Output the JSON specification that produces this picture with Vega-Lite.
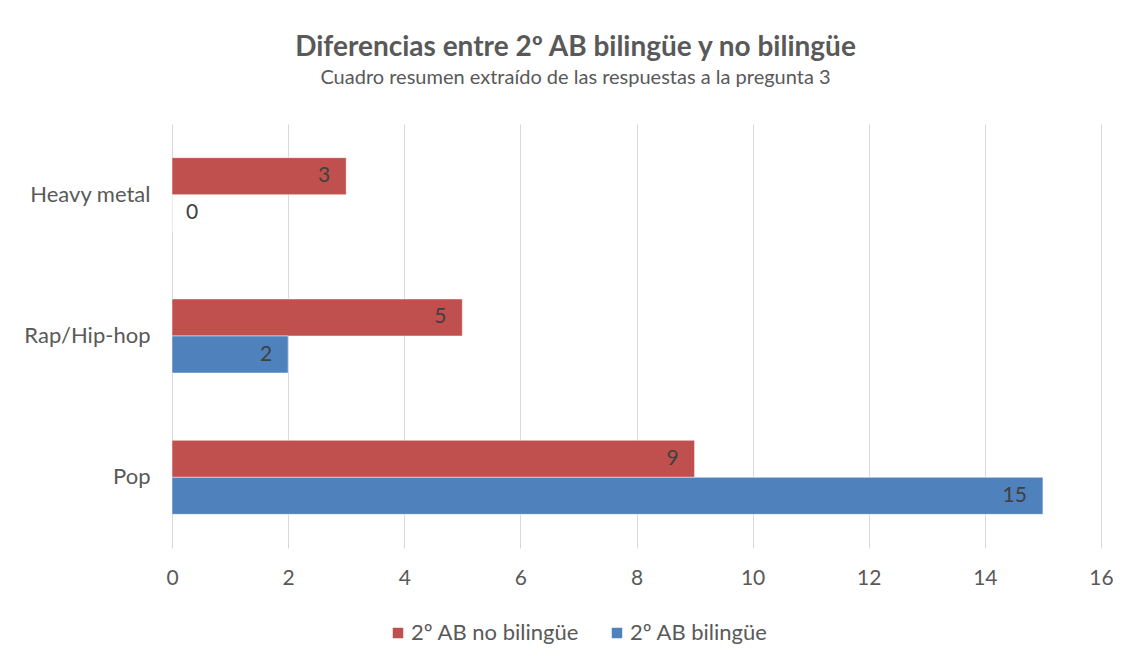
{
  "$schema": "https://vega.github.io/schema/vega-lite/v6.json",
  "width": 929,
  "height": 424,
  "autosize": {"type": "none"},
  "padding": {"left": 172, "top": 124, "right": 33, "bottom": 118},
  "background": "white",
  "config": {
    "font": "Lato",
    "view": {"stroke": null}
  },
  "title": {
    "text": "Diferencias entre 2º AB bilingüe y no bilingüe",
    "subtitle": "Cuadro resumen extraído de las respuestas a la pregunta 3",
    "anchor": "middle",
    "dx": -61,
    "offset": 36,
    "font": "Lato",
    "fontSize": 28,
    "fontWeight": "bold",
    "color": "#595959",
    "subtitleFont": "Lato",
    "subtitleFontSize": 20,
    "subtitleColor": "#595959",
    "subtitlePadding": 6
  },
  "data": {
    "values": [
      {"genero": "Heavy metal", "grupo": "2º AB no bilingüe", "valor": 3},
      {"genero": "Heavy metal", "grupo": "2º AB bilingüe", "valor": 0},
      {"genero": "Rap/Hip-hop", "grupo": "2º AB no bilingüe", "valor": 5},
      {"genero": "Rap/Hip-hop", "grupo": "2º AB bilingüe", "valor": 2},
      {"genero": "Pop", "grupo": "2º AB no bilingüe", "valor": 9},
      {"genero": "Pop", "grupo": "2º AB bilingüe", "valor": 15}
    ]
  },
  "encoding": {
    "y": {
      "field": "genero",
      "type": "nominal",
      "sort": ["Heavy metal", "Rap/Hip-hop", "Pop"],
      "scale": {"paddingInner": 0.476, "paddingOuter": 0.238},
      "axis": {
        "title": null,
        "ticks": false,
        "domain": false,
        "labelFontSize": 22,
        "labelColor": "#595959",
        "labelPadding": 22
      }
    },
    "yOffset": {
      "field": "grupo",
      "type": "nominal",
      "sort": ["2º AB no bilingüe", "2º AB bilingüe"]
    },
    "x": {
      "field": "valor",
      "type": "quantitative",
      "scale": {"domain": [0, 16], "nice": false},
      "axis": {
        "title": null,
        "values": [0, 2, 4, 6, 8, 10, 12, 14, 16],
        "ticks": false,
        "domain": false,
        "labelFlush": false,
        "gridColor": "#d9d9d9",
        "labelFontSize": 21,
        "labelColor": "#595959",
        "labelPadding": 19
      }
    }
  },
  "layer": [
    {
      "mark": {"type": "bar", "stroke": "white", "strokeWidth": 0.5},
      "encoding": {
        "color": {
          "field": "grupo",
          "type": "nominal",
          "sort": ["2º AB no bilingüe", "2º AB bilingüe"],
          "scale": {
            "domain": ["2º AB no bilingüe", "2º AB bilingüe"],
            "range": ["#C0504D", "#4F81BD"]
          },
          "legend": {
            "title": null,
            "orient": "none",
            "direction": "horizontal",
            "legendX": 215,
            "legendY": 498,
            "symbolType": "square",
            "symbolSize": 110,
            "symbolStrokeWidth": 0,
            "labelFontSize": 22,
            "labelLimit": 400,
            "labelColor": "#595959",
            "columnPadding": 26,
            "labelOffset": 2
          }
        }
      }
    },
    {
      "transform": [{"filter": "datum.valor > 0"}],
      "mark": {"type": "text", "align": "right", "baseline": "middle", "dx": -16, "fontSize": 21, "color": "#404040"},
      "encoding": {"text": {"field": "valor", "type": "quantitative"}}
    },
    {
      "transform": [{"filter": "datum.valor == 0"}],
      "mark": {"type": "text", "align": "left", "baseline": "middle", "dx": 14, "fontSize": 21, "color": "#404040"},
      "encoding": {"text": {"field": "valor", "type": "quantitative"}}
    }
  ]
}
